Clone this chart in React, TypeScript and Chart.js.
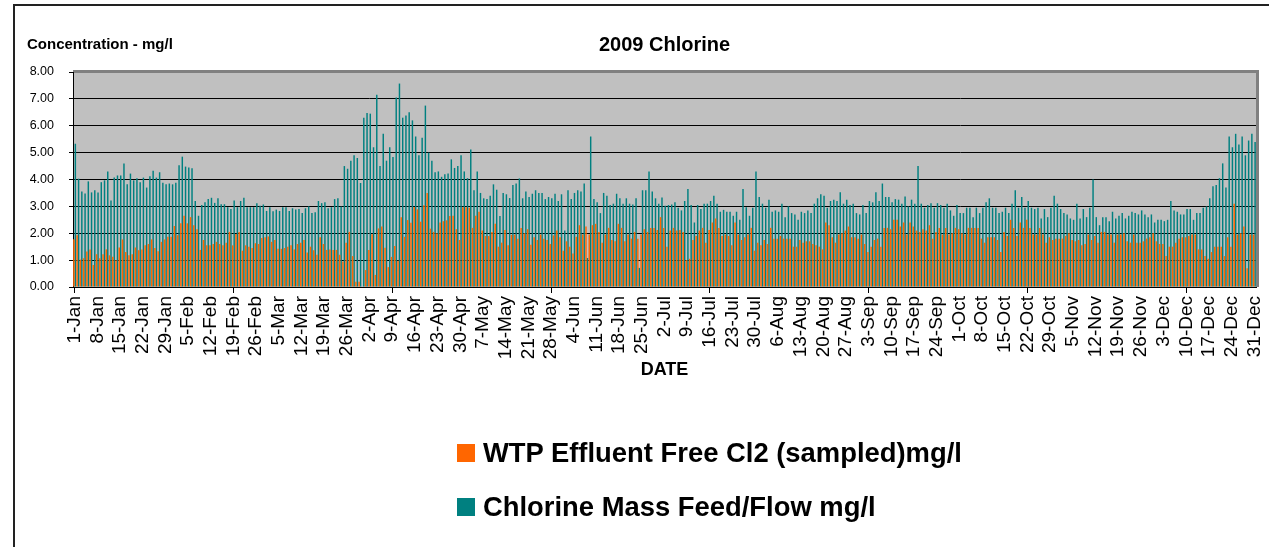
import React, { useEffect, useRef } from 'react';
import { Chart, registerables } from 'chart.js';

Chart.register(...registerables);

const FONT = "'Liberation Sans', Arial, Helvetica, sans-serif";

const TITLE = '2009 Chlorine';
const Y_TITLE = 'Concentration - mg/l';
const X_TITLE = 'DATE';
const SERIES_NAMES = ['WTP Effluent Free Cl2 (sampled)mg/l', 'Chlorine Mass Feed/Flow mg/l'];
const SERIES_COLORS = ['#FF6600', '#008080'];

const MONTHS = ['Jan', 'Feb', 'Mar', 'Apr', 'May', 'Jun', 'Jul', 'Aug', 'Sep', 'Oct', 'Nov', 'Dec'];
const MONTH_LENGTHS = [31, 28, 31, 30, 31, 30, 31, 31, 30, 31, 30, 31];
const LABEL_EVERY = 7;
const Y_TICKS = [0, 1, 2, 3, 4, 5, 6, 7, 8];

const DATES: string[] = [];
MONTHS.forEach((m, i) => {
  for (let d = 1; d <= MONTH_LENGTHS[i]; d++) DATES.push(`${d}-${m}`);
});

// WTP Effluent Free Cl2 (sampled) mg/l, 1-Jan .. 31-Dec
const FREE_CL2 = [
  1.78, 1.93, 1.02, 1.07, 1.32, 1.40, 0.82, 1.22, 1.07, 1.22, 1.40, 1.18, 1.13, 1.00, 1.47, 1.77, 1.30, 1.18, 1.22, 1.47,
  1.37, 1.40, 1.55, 1.60, 1.77, 1.45, 1.33, 1.68, 1.77, 1.87, 1.87, 2.27, 1.93, 2.37,
  2.65, 2.37, 2.60, 2.30, 2.15, 1.38, 1.75, 1.55, 1.55, 1.60, 1.68, 1.60, 1.55, 1.65, 2.05, 1.55, 1.97, 2.05, 1.35, 1.55,
  1.50, 1.45, 1.63, 1.60, 1.82, 1.85, 1.88, 1.68, 1.75, 1.42, 1.42, 1.45, 1.50, 1.55, 1.40, 1.60, 1.65, 1.75, 1.28, 1.50,
  1.37, 1.20, 1.85, 1.60, 1.38, 1.40, 1.38, 1.38, 1.20, 0.95,
  1.65, 2.05, 1.15, 0.20, 0.20, 0.00, 0.63, 1.38, 1.96, 0.45, 2.18, 2.25, 1.46, 0.74, 1.12, 1.53, 0.98, 2.60, 1.87, 2.49,
  2.39, 2.98, 2.89, 2.43, 3.04, 3.50, 2.17, 2.05, 2.00, 2.40, 2.45, 2.48, 2.64, 2.65, 2.15, 1.75, 2.97, 2.97, 2.95, 2.20,
  2.65, 2.80, 2.10, 1.90, 1.90, 2.05, 2.35, 1.50,
  1.65, 2.12, 1.55, 1.94, 1.95, 1.80, 2.20, 2.00, 2.15, 1.57, 1.85, 1.75, 1.95, 1.80, 1.75, 1.60, 1.92, 2.10, 1.85, 1.35,
  1.70, 1.50, 1.25, 1.87, 2.30, 1.95, 2.25, 1.95, 2.30, 2.35, 2.05, 1.65, 1.95, 2.20, 1.75, 1.70, 2.35, 2.20, 1.70, 1.95,
  1.80, 2.05, 1.80, 1.95, 2.15, 2.05, 2.20,
  2.20, 2.12, 2.60, 2.20, 1.50, 2.10, 2.20, 2.10, 2.12, 2.05, 1.00, 1.05, 1.75, 1.90, 2.10, 2.20, 1.65, 2.12, 2.40, 2.55,
  2.20, 1.90, 1.95, 1.90, 1.55, 2.40, 1.95, 1.75, 1.85, 1.95, 2.20, 1.35, 1.65, 1.55, 1.75, 1.60, 2.20, 1.80, 1.80, 1.90,
  1.80, 1.80, 1.80, 1.50, 1.50, 1.75, 1.65, 1.70,
  1.70, 1.60, 1.55, 1.50, 1.40, 2.40, 2.30, 1.85, 1.65, 1.95, 2.00, 2.10, 2.25, 1.85, 1.85, 1.80, 1.95, 1.60, 1.30, 1.50,
  1.75, 1.80, 1.50, 2.20, 2.20, 2.15, 2.50, 2.50, 2.25, 2.40, 1.95, 2.40, 2.25, 2.10, 2.05, 2.15, 2.10, 2.30, 1.80, 2.05,
  2.20, 1.95, 2.20, 1.95, 2.00, 2.20, 2.15, 2.00,
  1.95, 2.20, 2.20, 2.20, 2.20, 1.80, 1.65, 1.85, 1.85, 1.85, 1.75, 1.30, 2.05, 1.90, 2.50, 2.20, 1.90, 2.40, 2.20, 2.50,
  2.20, 1.95, 1.95, 2.20, 1.95, 1.65, 1.85, 1.75, 1.80, 1.80, 1.80, 1.90, 2.00, 1.75, 1.70, 1.75, 1.55, 1.60, 1.95, 1.75,
  1.90, 1.65, 2.05, 2.05, 1.95,
  1.95, 1.65, 1.95, 1.95, 2.00, 1.70, 1.65, 1.95, 1.65, 1.65, 1.70, 1.80, 1.85, 2.00, 1.70, 1.60, 1.60, 1.15, 1.50, 1.50,
  1.65, 1.80, 1.85, 1.85, 1.90, 1.95, 1.95, 1.40, 1.40, 1.15, 1.05, 1.30, 1.50, 1.50, 1.50, 1.15, 1.85, 1.50, 3.10, 1.95,
  2.00, 2.25, 0.70, 1.95, 1.95,
];

// Chlorine Mass Feed/Flow mg/l, 1-Jan .. 31-Dec
const MASS_FEED = [
  5.33, 4.03, 3.55, 3.48, 3.93, 3.52, 3.60, 3.52, 3.90, 3.97, 4.30, 3.22, 4.07, 4.15, 4.15, 4.60, 3.82, 4.22, 3.97, 4.05,
  3.90, 4.07, 3.70, 4.12, 4.33, 4.07, 4.27, 3.88, 3.82, 3.85, 3.82, 3.88, 4.53, 4.85, 4.48, 4.45,
  4.42,
  3.20, 2.65, 3.05, 3.15, 3.27, 3.32, 3.13, 3.30, 3.08, 3.08, 2.97, 2.90, 3.22, 2.97, 3.20, 3.32, 2.97, 2.97, 2.97, 3.12,
  3.02, 3.07, 2.83, 2.97, 2.82, 2.88, 2.83, 2.97, 2.97, 2.83, 2.93, 2.88, 2.90, 2.75, 2.93, 3.00, 2.75, 2.78, 3.20, 3.12,
  3.15, 2.93, 2.97, 3.27, 3.30, 3.00, 4.50,
  4.40, 4.70, 4.90, 4.80, 3.87, 6.30, 6.47, 6.45, 5.20, 7.15, 4.50, 5.70, 4.70, 5.20, 4.84, 7.05, 7.57, 6.30, 6.38, 6.50,
  6.20, 5.60, 4.90, 5.55, 6.75, 5.00, 4.70, 4.27, 4.30, 4.10, 4.20, 4.22, 4.75, 4.43, 4.50, 4.90, 4.30, 4.05, 5.12, 3.60,
  4.30, 3.50, 3.30, 3.27, 3.40, 3.82, 3.62,
  2.64, 3.50, 3.45, 3.31, 3.80, 3.85, 4.04, 3.30, 3.55, 3.35, 3.47, 3.60, 3.50, 3.50, 3.27, 3.35, 3.30, 3.47, 3.20, 3.45,
  2.10, 3.60, 3.27, 3.50, 3.60, 3.55, 3.85, 1.08, 5.60, 3.27, 3.15, 2.75, 3.50, 3.40, 3.05, 3.10, 3.47, 3.30, 3.10, 3.30,
  3.10, 3.07, 3.30, 0.71, 3.60, 3.60, 4.30, 3.55,
  3.30, 3.10, 3.33, 3.02, 3.05, 3.07, 3.15, 2.95, 2.85, 3.20, 3.65, 3.05, 2.40, 3.05, 2.90, 3.10, 3.10, 3.20, 3.40, 3.10,
  2.80, 2.87, 2.80, 2.80, 2.65, 2.80, 2.50, 3.65, 2.97, 2.65, 2.95, 4.30, 3.35, 3.10, 2.95, 3.25, 2.80, 2.85, 2.80, 3.10,
  2.60, 3.00, 2.75, 2.70, 2.50, 2.80, 2.75, 2.85,
  2.75, 3.10, 3.30, 3.45, 3.40, 2.95, 3.20, 3.25, 3.20, 3.53, 3.10, 3.25, 3.05, 3.10, 2.75, 2.70, 3.05, 2.75, 3.20, 3.15,
  3.53, 3.20, 3.85, 3.35, 3.35, 3.15, 3.27, 3.25, 3.10, 3.37, 3.00, 3.25, 3.10, 4.50, 3.10, 2.95, 3.05, 3.12, 2.95, 3.12,
  3.05, 2.95, 3.10, 2.85, 2.65, 3.05, 2.75, 2.75,
  2.95, 2.95, 2.60, 2.95, 2.75, 2.95, 3.15, 3.30, 2.95, 2.95, 2.75, 2.80, 2.95, 2.75, 3.10, 3.60, 2.95, 3.35, 2.95, 3.20,
  2.95, 2.90, 2.95, 2.55, 2.90, 2.60, 2.95, 3.40, 3.10, 2.90, 2.75, 2.70, 2.55, 2.50, 3.10, 2.55, 2.90, 2.60, 2.95, 4.00,
  2.60, 2.30, 2.60, 2.60, 2.45,
  2.80, 2.55, 2.65, 2.75, 2.55, 2.65, 2.80, 2.75, 2.70, 2.85, 2.70, 2.60, 2.70, 2.40, 2.50, 2.50, 2.45, 2.50, 3.20, 2.85,
  2.80, 2.70, 2.70, 2.90, 2.90, 2.50, 2.75, 2.75, 2.95, 3.00, 3.30, 3.75, 3.80, 4.05, 4.60, 3.70, 5.60, 5.20, 5.70, 5.30,
  5.60, 4.90, 5.45, 5.70, 5.40,
];

const plotBackground = {
  id: 'plotBackground',
  beforeDraw(chart: any) {
    const { ctx, chartArea } = chart;
    const { left, top, right, bottom } = chartArea;
    ctx.save();
    ctx.fillStyle = '#C0C0C0';
    ctx.fillRect(left, top, right - left, bottom - top);
    ctx.fillStyle = '#808080';
    ctx.fillRect(left, top - 2, right - left + 3, 3);
    ctx.fillRect(right, top - 2, 3, bottom - top + 2);
    ctx.restore();
  },
};

export default function App() {
  const canvasRef = useRef<HTMLCanvasElement | null>(null);

  useEffect(() => {
    if (!canvasRef.current) return;
    const chart = new Chart(canvasRef.current, {
      type: 'bar',
      data: {
        labels: DATES,
        datasets: [
          {
            label: SERIES_NAMES[0],
            data: FREE_CL2,
            backgroundColor: SERIES_COLORS[0],
            borderWidth: 0,
            categoryPercentage: 0.9,
            barPercentage: 1,
          },
          {
            label: SERIES_NAMES[1],
            data: MASS_FEED,
            backgroundColor: SERIES_COLORS[1],
            borderWidth: 0,
            categoryPercentage: 0.9,
            barPercentage: 1,
          },
        ],
      },
      options: {
        responsive: false,
        animation: false,
        events: [],
        layout: { padding: { left: 0, right: 13, top: 0, bottom: 160 } },
        plugins: {
          legend: { display: false },
          tooltip: { enabled: false },
          title: {
            display: true,
            text: TITLE,
            fullSize: false,
            color: '#000',
            font: { family: FONT, size: 20, weight: 'bold', lineHeight: 1.2 },
            padding: { top: 33, bottom: 15 },
          },
        },
        scales: {
          x: {
            offset: true,
            grid: {
              display: true,
              offset: false,
              drawOnChartArea: false,
              drawTicks: true,
              tickLength: 6,
              color: (ctx: any) => (ctx.index % LABEL_EVERY === 0 ? '#000' : 'rgba(0,0,0,0)'),
            },
            border: { display: true, color: '#000', width: 1 },
            ticks: {
              autoSkip: false,
              minRotation: 90,
              maxRotation: 90,
              padding: 3,
              color: '#000',
              font: { family: FONT, size: 19 },
              callback: function (this: any, value: any, index: number) {
                return index % LABEL_EVERY === 0 ? this.getLabelForValue(value) : null;
              },
            },
            title: {
              display: true,
              text: X_TITLE,
              color: '#000',
              font: { family: FONT, size: 18, weight: 'bold', lineHeight: 1.2 },
              padding: { top: 0, bottom: 6 },
            },
            afterFit: (scale: any) => {
              scale.height = 100;
              scale.paddingLeft = 0;
              scale.paddingRight = 0;
            },
          },
          y: {
            min: 0,
            max: 8,
            afterBuildTicks: (scale: any) => {
              scale.ticks = Y_TICKS.map((v) => ({ value: v }));
            },
            grid: {
              color: (ctx: any) => (ctx.tick && ctx.tick.value === 8 ? 'rgba(0,0,0,0)' : '#000'),
              tickColor: '#000',
              lineWidth: 1,
              drawTicks: true,
              tickLength: 4,
            },
            border: { display: true, color: '#000', width: 1 },
            ticks: {
              padding: 15,
              color: '#000',
              font: { family: FONT, size: 12.5 },
              callback: (v: any) => Number(v).toFixed(2),
            },
            afterFit: (scale: any) => {
              scale.width = 73;
              scale.paddingTop = 0;
              scale.paddingBottom = 0;
            },
          },
        },
      },
      plugins: [plotBackground],
    });
    return () => chart.destroy();
  }, []);

  return (
    <div
      style={{
        position: 'fixed',
        left: 0,
        top: 0,
        width: 1269,
        height: 547,
        background: '#fff',
        overflow: 'hidden',
        fontFamily: FONT,
        color: '#000',
      }}
    >
      <div
        style={{
          position: 'absolute',
          left: 13,
          top: 4,
          width: 1400,
          height: 700,
          borderLeft: '2px solid #222',
          borderTop: '2px solid #222',
        }}
      />
      <canvas
        ref={canvasRef}
        width={1269}
        height={547}
        style={{ position: 'absolute', left: 0, top: 0, width: 1269, height: 547 }}
      />
      <div
        style={{
          position: 'absolute',
          left: 27,
          top: 34.5,
          fontSize: 15,
          lineHeight: '18px',
          fontWeight: 'bold',
          whiteSpace: 'nowrap',
        }}
      >
        {Y_TITLE}
      </div>
      {SERIES_NAMES.map((name, i) => (
        <div
          key={name}
          style={{
            position: 'absolute',
            left: 457,
            top: i === 0 ? 437 : 491,
            height: 32,
            display: 'flex',
            alignItems: 'center',
            whiteSpace: 'nowrap',
          }}
        >
          <span
            style={{
              display: 'inline-block',
              width: 18,
              height: 18,
              background: SERIES_COLORS[i],
              marginRight: 8,
            }}
          />
          <span style={{ fontSize: 27.4, lineHeight: '32px', fontWeight: 'bold' }}>{name}</span>
        </div>
      ))}
    </div>
  );
}
